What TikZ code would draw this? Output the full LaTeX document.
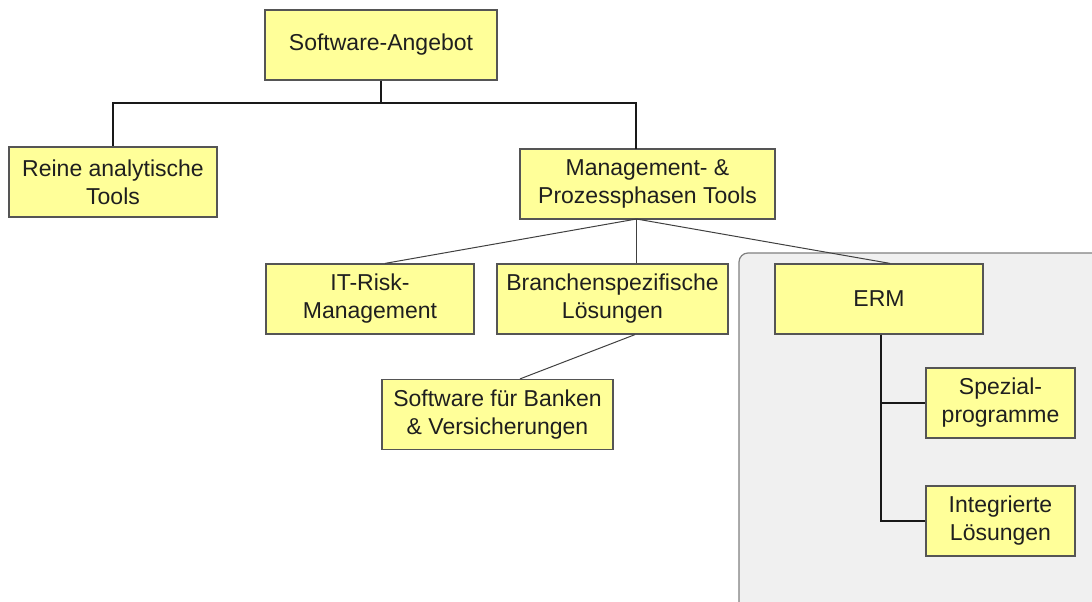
\documentclass[tikz,border=0pt]{standalone}
\usepackage{fontspec}
\setmainfont{Liberation Sans}
\usetikzlibrary{calc}

\definecolor{boxfill}{HTML}{FFFF99}
\definecolor{boxline}{HTML}{555555}
\definecolor{panelfill}{HTML}{F0F0F0}
\definecolor{panelline}{HTML}{808080}

\tikzstyle{block}=[draw=boxline, fill=boxfill, line width=1.2pt, align=center, inner sep=0pt,
  text=black!88, font=\fontsize{23}{28}\selectfont]
\tikzstyle{wide} =[block, minimum width=231pt, minimum height=70pt]
\tikzstyle{mid}  =[block, minimum width=208pt, minimum height=70pt]
\tikzstyle{small}=[block, minimum width=149pt, minimum height=70pt]
\tikzstyle{bus}  =[line width=1.6pt, black!90]
\tikzstyle{twig} =[line width=1pt, black!75]

\begin{document}
\begin{tikzpicture}[x=1pt, y=-1pt]
    \useasboundingbox (0,0) rectangle (1092,602);
    % grey panel behind the ERM branch
    \begin{scope}
      \clip (0,0) rectangle (1092,602);
      \draw[panelline, fill=panelfill, line width=1.2pt, rounded corners=9pt]
        (739,253) rectangle (1110,620);
    \end{scope}

    \node[wide, minimum width=232pt] (top) at (381, 45) {Software-Angebot};
    \node[mid]   (reine)    at (113, 182)   {Reine analytische\\Tools};
    \node[block, minimum width=255pt, minimum height=70pt]
                 (mgmt)     at (647.5, 184) {Management- \&\\Prozessphasen Tools};
    \node[mid]   (itrisk)   at (370, 299)   {IT-Risk-\\Management};
    \node[wide]  (branchen) at (612.5, 299) {Branchenspezifische\\Lösungen};
    \node[mid]   (erm)      at (879, 299)   {ERM};
    \node[wide]  (banken)   at (497.5, 414.5) {Software für Banken\\\& Versicherungen};
    \node[small] (spezial)  at (1000.5, 403) {Spezial-\\programme};
    \node[small] (integ)    at (1000.5, 521) {Integrierte\\Lösungen};

    \coordinate (split)   at (381, 103);
    \coordinate (mgmtin)  at (636, 149);
    \coordinate (mgmtout) at (636.5, 219);

    \draw[bus] (top.south) -- (split);
    \draw[bus] (split) -| (reine.north);
    \draw[bus] (split) -| (mgmtin);

    \draw[twig] (mgmtout) -- ($(itrisk.north)+(15,0)$);
    \draw[twig] (mgmtout) -- ($(branchen.north)+(24,0)$);
    \draw[twig] (mgmtout) -- ($(erm.north)+(11,0)$);
    \draw[twig] ($(branchen.south)+(22.5,0)$) -- ($(banken.north)+(22.5,0)$);

    \draw[bus] ($(erm.south)+(2,0)$) |- (spezial.west);
    \draw[bus] ($(erm.south)+(2,0)$) |- (integ.west);
\end{tikzpicture}
\end{document}
